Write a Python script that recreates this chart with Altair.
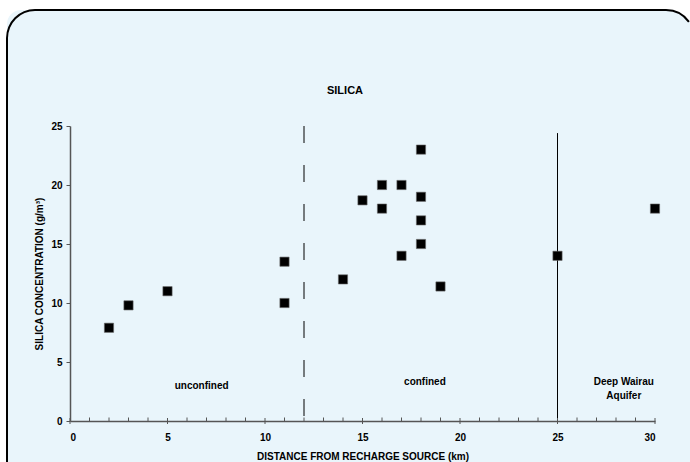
import altair as alt
import pandas as pd

# ---- data ----
distance_km = [2, 3, 5, 11, 11, 14, 15, 16, 16, 17, 17, 18, 18, 18, 18, 19, 25, 30]
silica_gm3 = [7.9, 9.8, 11.0, 13.5, 10.0, 12.0, 18.7, 20.0, 18.0, 20.0, 14.0, 23.0,
              19.0, 17.0, 15.0, 11.4, 14.0, 18.0]

zone_labels = ["unconfined", "confined", "Deep Wairau", "Aquifer"]
zone_label_x = [6.75, 18.2, 28.4, 28.4]
zone_label_y = [3.0, 3.3, 3.3, 2.1]

major_ticks = [0, 5, 10, 15, 20, 25, 30]
minor_ticks = [v for v in range(1, 30) if v % 5 != 0]
y_ticks = [0, 5, 10, 15, 20, 25]

dashed_boundary_x = [12]
dashed_boundary_top = [25]
solid_boundary_x = [25]
solid_boundary_top = [24.4]

FONT = "Liberation Sans"
AXIS_GRAY = "#555555"
PANEL_FILL = "#E9F5FB"
W, H = 690, 462
PLOT_LEFT, PLOT_RIGHT, PLOT_TOP, PLOT_BOTTOM = 70, 655, 126, 421

points_df = pd.DataFrame({"x": distance_km, "y": silica_gm3})
labels_df = pd.DataFrame({"x": zone_label_x, "y": zone_label_y, "t": zone_labels})
major_df = pd.DataFrame({"x": major_ticks})
minor_df = pd.DataFrame({"x": minor_ticks})
dash_df = pd.DataFrame({"x": dashed_boundary_x, "top": dashed_boundary_top})
solid_df = pd.DataFrame({"x": solid_boundary_x, "top": solid_boundary_top})
one_df = pd.DataFrame({"a": [0]})

xscale = alt.Scale(domain=[0, 30], nice=False, zero=False, range=[PLOT_LEFT, PLOT_RIGHT])
yscale = alt.Scale(domain=[0, 25], nice=False, zero=False, range=[PLOT_BOTTOM, PLOT_TOP])

xaxis = alt.Axis(
    values=major_ticks, ticks=False, grid=False, zindex=2,
    offset=-(H - PLOT_BOTTOM),
    title="DISTANCE FROM RECHARGE SOURCE (km)",
    labelPadding=11, titlePadding=9,
    domainColor=AXIS_GRAY, domainWidth=1.5,
    labelFont=FONT, labelFontSize=10, labelFontWeight="bold", labelColor="black",
    titleFont=FONT, titleFontSize=10, titleFontWeight="bold", titleColor="black",
)
yaxis = alt.Axis(
    values=y_ticks, ticks=True, tickSize=4, tickColor=AXIS_GRAY, tickWidth=1,
    grid=False, zindex=2,
    offset=-PLOT_LEFT,
    title="SILICA CONCENTRATION (g/m³)",
    labelPadding=4, titlePadding=6,
    domainColor=AXIS_GRAY, domainWidth=1.5,
    labelFont=FONT, labelFontSize=10, labelFontWeight="bold", labelColor="black",
    titleFont=FONT, titleFontSize=10, titleFontWeight="bold", titleColor="black",
)


def X(field):
    return alt.X(field, type="quantitative", scale=xscale, axis=xaxis)


def Y(field):
    return alt.Y(field, type="quantitative", scale=yscale, axis=yaxis)


# ---- rounded light-blue panel, built so nothing leaves the 690x462 picture ----
PL, PT, R = 7, 10, 28          # panel left, top, corner radius
TR_CX = 666                    # centre x of the top-right corner arc
TR_END = 0.96                  # angle where that arc leaves the picture

fill_main = alt.Chart(one_df).mark_rect(fill=PANEL_FILL, strokeWidth=0).encode(
    x=alt.value(PL), x2=alt.value(W), y=alt.value(PT + R), y2=alt.value(H))
fill_top = alt.Chart(one_df).mark_rect(
    fill=PANEL_FILL, strokeWidth=0, cornerRadiusTopLeft=R).encode(
    x=alt.value(PL), x2=alt.value(TR_CX), y=alt.value(PT), y2=alt.value(PT + R))
fill_corner = alt.Chart(one_df).mark_rect(fill=PANEL_FILL, strokeWidth=0).encode(
    x=alt.value(TR_CX), x2=alt.value(W), y=alt.value(PT + 12), y2=alt.value(PT + R))
fill_wedge = alt.Chart(one_df).mark_arc(
    fill=PANEL_FILL, strokeWidth=0, theta=0, theta2=TR_END, radius=R, radius2=0).encode(
    x=alt.value(TR_CX), y=alt.value(PT + R))

border_tl = alt.Chart(one_df).mark_arc(
    fill="black", theta=4.71239, theta2=6.28319, radius=R + 1, radius2=R - 1).encode(
    x=alt.value(PL + R), y=alt.value(PT + R))
border_tr = alt.Chart(one_df).mark_arc(
    fill="black", theta=0, theta2=TR_END, radius=R + 1, radius2=R - 1).encode(
    x=alt.value(TR_CX), y=alt.value(PT + R))
border_top = alt.Chart(one_df).mark_rule(color="black", strokeWidth=2).encode(
    x=alt.value(PL + R), x2=alt.value(TR_CX), y=alt.value(PT))
border_left = alt.Chart(one_df).mark_rule(color="black", strokeWidth=2).encode(
    x=alt.value(PL), y=alt.value(PT + R), y2=alt.value(H))

title = alt.Chart(one_df).mark_text(
    text="SILICA", font=FONT, fontSize=11, fontWeight="bold", color="black",
    align="center", baseline="middle",
).encode(x=alt.value(345), y=alt.value(91))

dashed = alt.Chart(dash_df).mark_rule(
    color="black", strokeWidth=1, strokeDash=[17, 22]
).encode(x=X("x"), y=Y("top"), y2=alt.datum(0))

solid = alt.Chart(solid_df).mark_rule(color="black", strokeWidth=1).encode(
    x=X("x"), y=Y("top"), y2=alt.datum(0)
)

major = alt.Chart(major_df).mark_rule(
    color=AXIS_GRAY, strokeWidth=1, yOffset=-3, y2Offset=3
).encode(x=X("x"), y=alt.datum(0), y2=alt.datum(0))

minor = alt.Chart(minor_df).mark_rule(
    color=AXIS_GRAY, strokeWidth=1, yOffset=-3.5, y2Offset=0
).encode(x=X("x"), y=alt.datum(0), y2=alt.datum(0))

points = alt.Chart(points_df).mark_square(
    size=85, filled=True, color="black", opacity=1, stroke="#666666", strokeWidth=0.6
).encode(x=X("x"), y=Y("y"))

labels = alt.Chart(labels_df).mark_text(
    font=FONT, fontSize=10, fontWeight="bold", color="black",
    align="center", baseline="middle",
).encode(x=X("x"), y=Y("y"), text="t:N")

chart = alt.layer(
    fill_main, fill_top, fill_corner, fill_wedge,
    border_tl, border_tr, border_top, border_left,
    title, dashed, solid, major, minor, points, labels
).properties(
    width=W, height=H,
    autosize=alt.AutoSizeParams(type="none"),
    padding=0,
    background="white",
).configure_view(strokeWidth=0)

chart.save("out.html", embed_options={"renderer": "svg", "actions": False})
